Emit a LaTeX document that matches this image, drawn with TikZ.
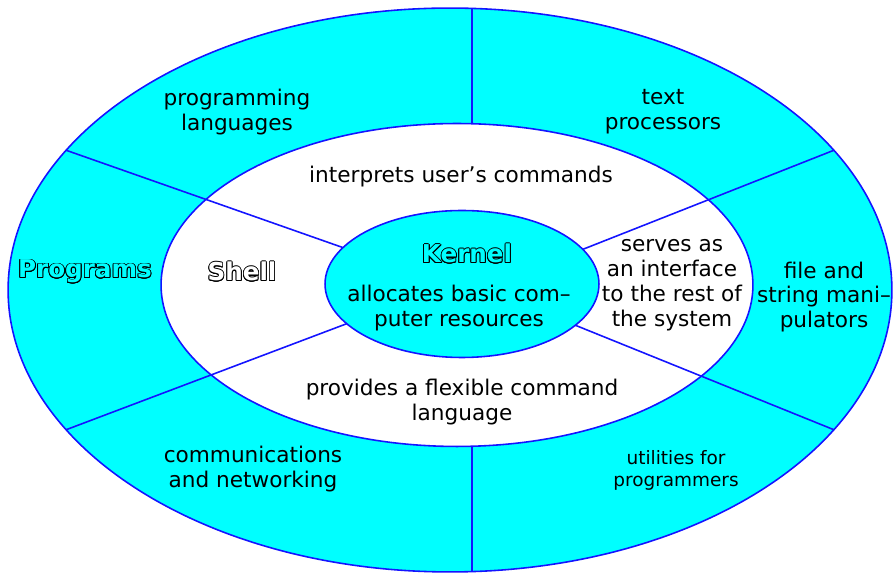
\documentclass[tikz,border=0pt]{standalone}
\usepackage{fontspec}
\setmainfont{DejaVu Sans}
\usepackage{contour}
\contourlength{0.45pt}
\usetikzlibrary{shapes.geometric}

\definecolor{ringcyan}{RGB}{0,255,255}
\definecolor{edgeblue}{RGB}{20,20,255}

\tikzset{
  ring/.style={ellipse, draw=edgeblue, line width=0.9pt, inner sep=0pt, outer sep=0pt},
  divider/.style={draw=edgeblue, line width=0.9pt},
  txt/.style={align=center, inner sep=0pt, font=\fontsize{12.3}{14.2}\selectfont},
  title/.style={inner sep=0pt, font=\fontsize{14}{16}\selectfont\bfseries},
}

\begin{document}
\begin{tikzpicture}[x=0.02cm, y=-0.02cm]
  \useasboundingbox (0,0) rectangle (893,573);

  % Draw the three rings
  \node[ring, fill=ringcyan, minimum width=17.68cm, minimum height=11.28cm] (outer) at (450,290) {};
  \node[ring, fill=white, minimum width=11.84cm, minimum height=6.46cm] (shell) at (457,285) {};
  \node[ring, fill=ringcyan, minimum width=5.48cm, minimum height=2.94cm] (kernel) at (462,284) {};

  % Cut the rings into sectors
  \coordinate (cut) at (472,0);
  \draw[divider] (outer.north -| cut) -- (shell.north -| cut);
  \draw[divider] (shell.south -| cut) -- (outer.south -| cut);
  \draw[divider] (kernel.163) -- (outer.160);
  \draw[divider] (kernel.16) -- (outer.20);
  \draw[divider] (kernel.199) -- (outer.200);
  \draw[divider] (kernel.340) -- (outer.340);

  % Outer ring: programs
  \node[txt] (proglang) at (237,112) {programming\\languages};
  \node[txt] (textproc) at (663,112) {text\\processors};
  \node[title, text=ringcyan] (programs) at (85,272) {\contour{black}{Programs}};
  \node[txt] (files) at (824,297) {file and\\string mani--\\pulators};
  \node[txt] (comms) at (253,469) {communications\\and networking};
  \node[txt, font=\fontsize{10.5}{12.6}\selectfont] (utils) at (676,470) {utilities for\\programmers};

  % Middle ring: shell
  \node[title, text=white] (shelltitle) at (242,272) {\contour{black}{Shell}};
  \node[txt] (interp) at (461,177) {interprets user's commands};
  \node[txt] (serves) at (672,285) {serves as\\an interface\\to the rest of\\the system};
  \node[txt] (flex) at (462,402) {provides a flexible command\\language};

  % Core: kernel
  \node[title, text=ringcyan] (kerneltitle) at (467,254) {\contour{black}{Kernel}};
  \node[txt] (alloc) at (459,308) {allocates basic com--\\puter resources};
\end{tikzpicture}
\end{document}
